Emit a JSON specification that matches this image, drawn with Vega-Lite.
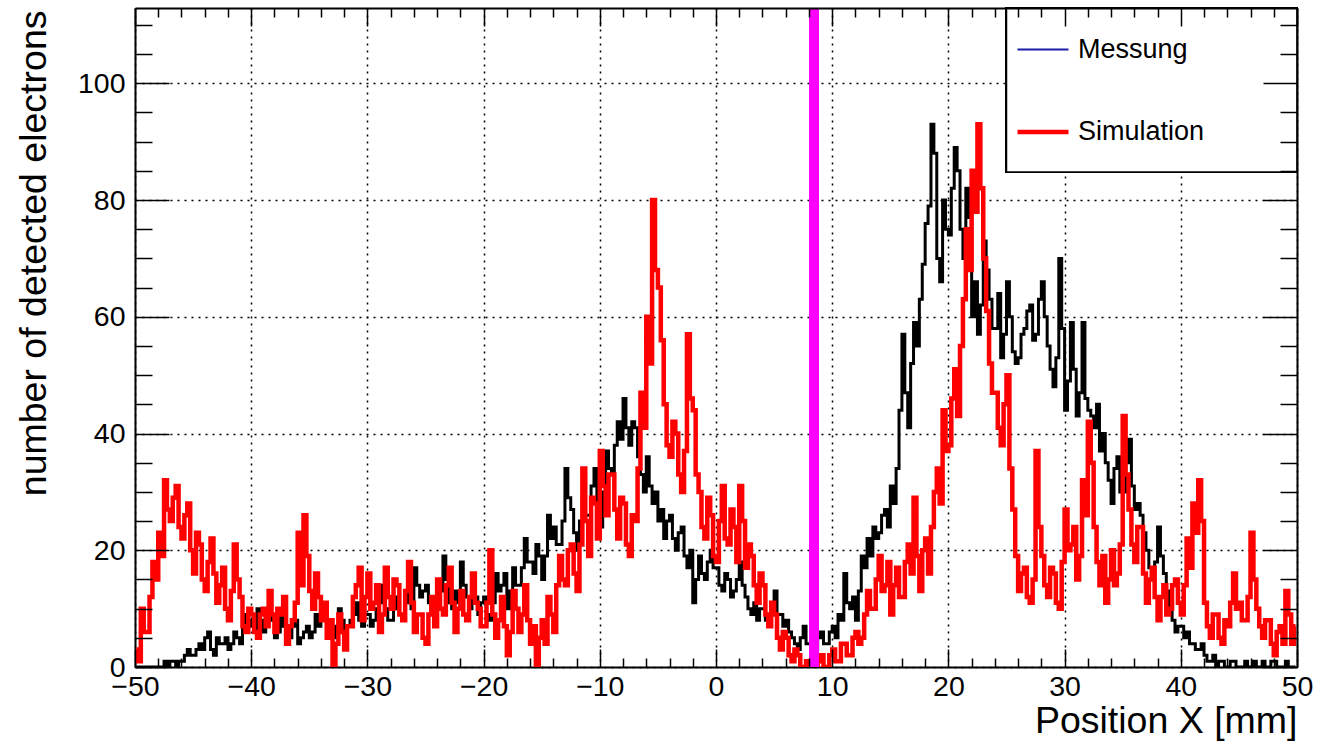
{
  "$schema": "https://vega.github.io/schema/vega-lite/v6.json",
  "width": 1162,
  "height": 659,
  "autosize": {"type": "none"},
  "padding": {"left": 135, "top": 8, "right": 40, "bottom": 75},
  "background": "white",
  "config": {
    "view": {"stroke": null},
    "font": "Liberation Sans",
    "axis": {"labelColor": "black", "titleColor": "black", "titleFontWeight": "normal", "tickColor": "black", "domainColor": "black"},
    "legend": {
      "orient": "none",
      "legendX": 858,
      "legendY": -7,
      "padding": 22,
      "rowPadding": 41,
      "labelOffset": 7,
      "labelFontSize": 27,
      "labelLimit": 400,
      "labelColor": "black",
      "labelFont": "Liberation Sans",
      "symbolType": "stroke",
      "symbolSize": 2601
    }
  },
  "data": {
    "values": [
      {"x":-49.875,"Messung":0,"Simulation":3},{"x":-49.625,"Messung":0,"Simulation":1},{"x":-49.375,"Messung":0,"Simulation":10},{"x":-49.125,"Messung":0,"Simulation":6},
      {"x":-48.875,"Messung":0,"Simulation":6},{"x":-48.625,"Messung":0,"Simulation":12},{"x":-48.375,"Messung":0,"Simulation":18},{"x":-48.125,"Messung":0,"Simulation":15},
      {"x":-47.875,"Messung":0,"Simulation":23},{"x":-47.625,"Messung":0,"Simulation":19},{"x":-47.375,"Messung":1,"Simulation":32},{"x":-47.125,"Messung":0,"Simulation":27},
      {"x":-46.875,"Messung":1,"Simulation":25},{"x":-46.625,"Messung":1,"Simulation":29},{"x":-46.375,"Messung":0,"Simulation":31},{"x":-46.125,"Messung":1,"Simulation":24},
      {"x":-45.875,"Messung":1,"Simulation":22},{"x":-45.625,"Messung":2,"Simulation":26},{"x":-45.375,"Messung":3,"Simulation":28},{"x":-45.125,"Messung":2,"Simulation":20},

      {"x":-44.875,"Messung":2,"Simulation":16},{"x":-44.625,"Messung":3,"Simulation":23},{"x":-44.375,"Messung":4,"Simulation":21},{"x":-44.125,"Messung":3,"Simulation":15},
      {"x":-43.875,"Messung":5,"Simulation":13},{"x":-43.625,"Messung":6,"Simulation":18},{"x":-43.375,"Messung":3,"Simulation":22},{"x":-43.125,"Messung":2,"Simulation":16},
      {"x":-42.875,"Messung":5,"Simulation":11},{"x":-42.625,"Messung":4,"Simulation":14},{"x":-42.375,"Messung":4,"Simulation":17},{"x":-42.125,"Messung":5,"Simulation":10},
      {"x":-41.875,"Messung":3,"Simulation":8},{"x":-41.625,"Messung":4,"Simulation":13},{"x":-41.375,"Messung":6,"Simulation":21},{"x":-41.125,"Messung":5,"Simulation":15},
      {"x":-40.875,"Messung":4,"Simulation":12},{"x":-40.625,"Messung":7,"Simulation":7},{"x":-40.375,"Messung":9,"Simulation":6},{"x":-40.125,"Messung":8,"Simulation":10},

      {"x":-39.875,"Messung":7,"Simulation":9},{"x":-39.625,"Messung":6,"Simulation":6},{"x":-39.375,"Messung":10,"Simulation":5},{"x":-39.125,"Messung":8,"Simulation":9},
      {"x":-38.875,"Messung":6,"Simulation":10},{"x":-38.625,"Messung":7,"Simulation":7},{"x":-38.375,"Messung":8,"Simulation":13},{"x":-38.125,"Messung":9,"Simulation":9},
      {"x":-37.875,"Messung":5,"Simulation":6},{"x":-37.625,"Messung":6,"Simulation":10},{"x":-37.375,"Messung":9,"Simulation":9},{"x":-37.125,"Messung":7,"Simulation":12},
      {"x":-36.875,"Messung":6,"Simulation":4},{"x":-36.625,"Messung":5,"Simulation":7},{"x":-36.375,"Messung":7,"Simulation":8},{"x":-36.125,"Messung":8,"Simulation":11},
      {"x":-35.875,"Messung":4,"Simulation":23},{"x":-35.625,"Messung":5,"Simulation":14},{"x":-35.375,"Messung":6,"Simulation":26},{"x":-35.125,"Messung":7,"Simulation":19},

      {"x":-34.875,"Messung":5,"Simulation":13},{"x":-34.625,"Messung":6,"Simulation":10},{"x":-34.375,"Messung":9,"Simulation":16},{"x":-34.125,"Messung":7,"Simulation":12},
      {"x":-33.875,"Messung":11,"Simulation":8},{"x":-33.625,"Messung":9,"Simulation":11},{"x":-33.375,"Messung":7,"Simulation":5},{"x":-33.125,"Messung":6,"Simulation":8},
      {"x":-32.875,"Messung":5,"Simulation":0},{"x":-32.625,"Messung":7,"Simulation":4},{"x":-32.375,"Messung":10,"Simulation":9},{"x":-32.125,"Messung":8,"Simulation":6},
      {"x":-31.875,"Messung":6,"Simulation":3},{"x":-31.625,"Messung":7,"Simulation":7},{"x":-31.375,"Messung":8,"Simulation":7},{"x":-31.125,"Messung":9,"Simulation":12},
      {"x":-30.875,"Messung":11,"Simulation":14},{"x":-30.625,"Messung":8,"Simulation":17},{"x":-30.375,"Messung":7,"Simulation":8},{"x":-30.125,"Messung":9,"Simulation":12},

      {"x":-29.875,"Messung":9,"Simulation":16},{"x":-29.625,"Messung":7,"Simulation":10},{"x":-29.375,"Messung":8,"Simulation":11},{"x":-29.125,"Messung":10,"Simulation":14},
      {"x":-28.875,"Messung":14,"Simulation":6},{"x":-28.625,"Messung":11,"Simulation":9},{"x":-28.375,"Messung":10,"Simulation":17},{"x":-28.125,"Messung":8,"Simulation":12},
      {"x":-27.875,"Messung":8,"Simulation":10},{"x":-27.625,"Messung":10,"Simulation":15},{"x":-27.375,"Messung":12,"Simulation":14},{"x":-27.125,"Messung":9,"Simulation":9},
      {"x":-26.875,"Messung":9,"Simulation":8},{"x":-26.625,"Messung":11,"Simulation":13},{"x":-26.375,"Messung":13,"Simulation":18},{"x":-26.125,"Messung":10,"Simulation":11},
      {"x":-25.875,"Messung":17,"Simulation":6},{"x":-25.625,"Messung":14,"Simulation":9},{"x":-25.375,"Messung":12,"Simulation":9},{"x":-25.125,"Messung":13,"Simulation":5},

      {"x":-24.875,"Messung":14,"Simulation":4},{"x":-24.625,"Messung":11,"Simulation":9},{"x":-24.375,"Messung":9,"Simulation":12},{"x":-24.125,"Messung":12,"Simulation":7},
      {"x":-23.875,"Messung":11,"Simulation":15},{"x":-23.625,"Messung":13,"Simulation":10},{"x":-23.375,"Messung":19,"Simulation":9},{"x":-23.125,"Messung":15,"Simulation":14},
      {"x":-22.875,"Messung":11,"Simulation":17},{"x":-22.625,"Messung":10,"Simulation":11},{"x":-22.375,"Messung":13,"Simulation":6},{"x":-22.125,"Messung":11,"Simulation":10},
      {"x":-21.875,"Messung":18,"Simulation":13},{"x":-21.625,"Messung":14,"Simulation":9},{"x":-21.375,"Messung":12,"Simulation":8},{"x":-21.125,"Messung":10,"Simulation":12},
      {"x":-20.875,"Messung":15,"Simulation":16},{"x":-20.625,"Messung":12,"Simulation":11},{"x":-20.375,"Messung":9,"Simulation":10},{"x":-20.125,"Messung":11,"Simulation":7},

      {"x":-19.875,"Messung":12,"Simulation":7},{"x":-19.625,"Messung":9,"Simulation":11},{"x":-19.375,"Messung":8,"Simulation":20},{"x":-19.125,"Messung":11,"Simulation":9},
      {"x":-18.875,"Messung":16,"Simulation":5},{"x":-18.625,"Messung":13,"Simulation":8},{"x":-18.375,"Messung":14,"Simulation":12},{"x":-18.125,"Messung":16,"Simulation":7},
      {"x":-17.875,"Messung":10,"Simulation":2},{"x":-17.625,"Messung":13,"Simulation":6},{"x":-17.375,"Messung":17,"Simulation":13},{"x":-17.125,"Messung":14,"Simulation":10},
      {"x":-16.875,"Messung":14,"Simulation":6},{"x":-16.625,"Messung":17,"Simulation":9},{"x":-16.375,"Messung":22,"Simulation":14},{"x":-16.125,"Messung":18,"Simulation":8},
      {"x":-15.875,"Messung":18,"Simulation":4},{"x":-15.625,"Messung":16,"Simulation":7},{"x":-15.375,"Messung":21,"Simulation":0},{"x":-15.125,"Messung":19,"Simulation":5},

      {"x":-14.875,"Messung":15,"Simulation":8},{"x":-14.625,"Messung":19,"Simulation":4},{"x":-14.375,"Messung":26,"Simulation":12},{"x":-14.125,"Messung":22,"Simulation":9},
      {"x":-13.875,"Messung":24,"Simulation":6},{"x":-13.625,"Messung":21,"Simulation":14},{"x":-13.375,"Messung":21,"Simulation":19},{"x":-13.125,"Messung":25,"Simulation":15},
      {"x":-12.875,"Messung":34,"Simulation":14},{"x":-12.625,"Messung":29,"Simulation":20},{"x":-12.375,"Messung":27,"Simulation":21},{"x":-12.125,"Messung":23,"Simulation":16},
      {"x":-11.875,"Messung":20,"Simulation":13},{"x":-11.625,"Messung":25,"Simulation":21},{"x":-11.375,"Messung":29,"Simulation":34},{"x":-11.125,"Messung":26,"Simulation":25},
      {"x":-10.875,"Messung":26,"Simulation":19},{"x":-10.625,"Messung":31,"Simulation":29},{"x":-10.375,"Messung":34,"Simulation":28},{"x":-10.125,"Messung":28,"Simulation":22},

      {"x":-9.875,"Messung":24,"Simulation":37},{"x":-9.625,"Messung":30,"Simulation":31},{"x":-9.375,"Messung":37,"Simulation":26},{"x":-9.125,"Messung":34,"Simulation":33},
      {"x":-8.875,"Messung":33,"Simulation":33},{"x":-8.625,"Messung":38,"Simulation":27},{"x":-8.375,"Messung":42,"Simulation":22},{"x":-8.125,"Messung":39,"Simulation":29},
      {"x":-7.875,"Messung":46,"Simulation":28},{"x":-7.625,"Messung":41,"Simulation":21},{"x":-7.375,"Messung":38,"Simulation":19},{"x":-7.125,"Messung":42,"Simulation":26},
      {"x":-6.875,"Messung":41,"Simulation":25},{"x":-6.625,"Messung":36,"Simulation":34},{"x":-6.375,"Messung":33,"Simulation":47},{"x":-6.125,"Messung":30,"Simulation":41},
      {"x":-5.875,"Messung":36,"Simulation":60},{"x":-5.625,"Messung":31,"Simulation":52},{"x":-5.375,"Messung":28,"Simulation":80},{"x":-5.125,"Messung":30,"Simulation":68},

      {"x":-4.875,"Messung":25,"Simulation":65},{"x":-4.625,"Messung":27,"Simulation":56},{"x":-4.375,"Messung":22,"Simulation":45},{"x":-4.125,"Messung":25,"Simulation":38},
      {"x":-3.875,"Messung":26,"Simulation":36},{"x":-3.625,"Messung":22,"Simulation":42},{"x":-3.375,"Messung":20,"Simulation":40},{"x":-3.125,"Messung":23,"Simulation":33},
      {"x":-2.875,"Messung":24,"Simulation":30},{"x":-2.625,"Messung":19,"Simulation":37},{"x":-2.375,"Messung":17,"Simulation":57},{"x":-2.125,"Messung":20,"Simulation":46},
      {"x":-1.875,"Messung":11,"Simulation":44},{"x":-1.625,"Messung":15,"Simulation":33},{"x":-1.375,"Messung":19,"Simulation":30},{"x":-1.125,"Messung":16,"Simulation":24},
      {"x":-0.875,"Messung":15,"Simulation":22},{"x":-0.625,"Messung":18,"Simulation":29},{"x":-0.375,"Messung":20,"Simulation":26},{"x":-0.125,"Messung":17,"Simulation":19},

      {"x":0.125,"Messung":17,"Simulation":18},{"x":0.375,"Messung":14,"Simulation":25},{"x":0.625,"Messung":13,"Simulation":31},{"x":0.875,"Messung":16,"Simulation":22},
      {"x":1.125,"Messung":15,"Simulation":21},{"x":1.375,"Messung":12,"Simulation":27},{"x":1.625,"Messung":13,"Simulation":24},{"x":1.875,"Messung":15,"Simulation":18},
      {"x":2.125,"Messung":18,"Simulation":31},{"x":2.375,"Messung":14,"Simulation":25},{"x":2.625,"Messung":12,"Simulation":17},{"x":2.875,"Messung":10,"Simulation":21},
      {"x":3.125,"Messung":9,"Simulation":19},{"x":3.375,"Messung":11,"Simulation":14},{"x":3.625,"Messung":8,"Simulation":11},{"x":3.875,"Messung":10,"Simulation":16},
      {"x":4.125,"Messung":10,"Simulation":14},{"x":4.375,"Messung":8,"Simulation":9},{"x":4.625,"Messung":7,"Simulation":7},{"x":4.875,"Messung":9,"Simulation":11},

      {"x":5.125,"Messung":13,"Simulation":9},{"x":5.375,"Messung":9,"Simulation":5},{"x":5.625,"Messung":9,"Simulation":3},{"x":5.875,"Messung":7,"Simulation":6},
      {"x":6.125,"Messung":8,"Simulation":5},{"x":6.375,"Messung":6,"Simulation":2},{"x":6.625,"Messung":5,"Simulation":1},{"x":6.875,"Messung":4,"Simulation":3},
      {"x":7.125,"Messung":3,"Simulation":2},{"x":7.375,"Messung":5,"Simulation":0},{"x":7.625,"Messung":7,"Simulation":0},{"x":7.875,"Messung":4,"Simulation":1},
      {"x":8.125,"Messung":4,"Simulation":0},{"x":8.375,"Messung":3,"Simulation":0},{"x":8.625,"Messung":3,"Simulation":0},{"x":8.875,"Messung":5,"Simulation":1},
      {"x":9.125,"Messung":6,"Simulation":2},{"x":9.375,"Messung":4,"Simulation":0},{"x":9.625,"Messung":4,"Simulation":0},{"x":9.875,"Messung":6,"Simulation":2},

      {"x":10.125,"Messung":7,"Simulation":3},{"x":10.375,"Messung":5,"Simulation":1},{"x":10.625,"Messung":9,"Simulation":1},{"x":10.875,"Messung":8,"Simulation":4},
      {"x":11.125,"Messung":16,"Simulation":4},{"x":11.375,"Messung":11,"Simulation":2},{"x":11.625,"Messung":10,"Simulation":2},{"x":11.875,"Messung":12,"Simulation":5},
      {"x":12.125,"Messung":8,"Simulation":6},{"x":12.375,"Messung":13,"Simulation":4},{"x":12.625,"Messung":19,"Simulation":5},{"x":12.875,"Messung":17,"Simulation":9},
      {"x":13.125,"Messung":22,"Simulation":13},{"x":13.375,"Messung":19,"Simulation":10},{"x":13.625,"Messung":24,"Simulation":10},{"x":13.875,"Messung":22,"Simulation":15},
      {"x":14.125,"Messung":23,"Simulation":19},{"x":14.375,"Messung":26,"Simulation":13},{"x":14.625,"Messung":27,"Simulation":14},{"x":14.875,"Messung":24,"Simulation":18},

      {"x":15.125,"Messung":31,"Simulation":9},{"x":15.375,"Messung":28,"Simulation":14},{"x":15.625,"Messung":34,"Simulation":17},{"x":15.875,"Messung":44,"Simulation":12},
      {"x":16.125,"Messung":57,"Simulation":12},{"x":16.375,"Messung":47,"Simulation":18},{"x":16.625,"Messung":41,"Simulation":21},{"x":16.875,"Messung":52,"Simulation":16},
      {"x":17.125,"Messung":59,"Simulation":29},{"x":17.375,"Messung":55,"Simulation":19},{"x":17.625,"Messung":63,"Simulation":13},{"x":17.875,"Messung":69,"Simulation":20},
      {"x":18.125,"Messung":76,"Simulation":22},{"x":18.375,"Messung":79,"Simulation":16},{"x":18.625,"Messung":93,"Simulation":24},{"x":18.875,"Messung":88,"Simulation":30},
      {"x":19.125,"Messung":70,"Simulation":34},{"x":19.375,"Messung":66,"Simulation":28},{"x":19.625,"Messung":80,"Simulation":44},{"x":19.875,"Messung":75,"Simulation":37},

      {"x":20.125,"Messung":74,"Simulation":38},{"x":20.375,"Messung":82,"Simulation":46},{"x":20.625,"Messung":89,"Simulation":51},{"x":20.875,"Messung":85,"Simulation":43},
      {"x":21.125,"Messung":75,"Simulation":55},{"x":21.375,"Messung":70,"Simulation":63},{"x":21.625,"Messung":82,"Simulation":75},{"x":21.875,"Messung":77,"Simulation":68},
      {"x":22.125,"Messung":60,"Simulation":85},{"x":22.375,"Messung":66,"Simulation":78},{"x":22.625,"Messung":57,"Simulation":93},{"x":22.875,"Messung":62,"Simulation":82},
      {"x":23.125,"Messung":73,"Simulation":70},{"x":23.375,"Messung":68,"Simulation":61},{"x":23.625,"Messung":63,"Simulation":52},{"x":23.875,"Messung":58,"Simulation":47},
      {"x":24.125,"Messung":58,"Simulation":47},{"x":24.375,"Messung":64,"Simulation":41},{"x":24.625,"Messung":53,"Simulation":38},{"x":24.875,"Messung":57,"Simulation":45},

      {"x":25.125,"Messung":66,"Simulation":50},{"x":25.375,"Messung":60,"Simulation":34},{"x":25.625,"Messung":54,"Simulation":27},{"x":25.875,"Messung":52,"Simulation":19},
      {"x":26.125,"Messung":53,"Simulation":13},{"x":26.375,"Messung":57,"Simulation":16},{"x":26.625,"Messung":58,"Simulation":17},{"x":26.875,"Messung":61,"Simulation":12},
      {"x":27.125,"Messung":62,"Simulation":11},{"x":27.375,"Messung":56,"Simulation":15},{"x":27.625,"Messung":57,"Simulation":37},{"x":27.875,"Messung":63,"Simulation":24},
      {"x":28.125,"Messung":66,"Simulation":19},{"x":28.375,"Messung":60,"Simulation":14},{"x":28.625,"Messung":55,"Simulation":12},{"x":28.875,"Messung":51,"Simulation":17},
      {"x":29.125,"Messung":48,"Simulation":16},{"x":29.375,"Messung":53,"Simulation":11},{"x":29.625,"Messung":70,"Simulation":10},{"x":29.875,"Messung":58,"Simulation":18},

      {"x":30.125,"Messung":44,"Simulation":27},{"x":30.375,"Messung":49,"Simulation":20},{"x":30.625,"Messung":59,"Simulation":21},{"x":30.875,"Messung":51,"Simulation":24},
      {"x":31.125,"Messung":43,"Simulation":15},{"x":31.375,"Messung":47,"Simulation":19},{"x":31.625,"Messung":59,"Simulation":32},{"x":31.875,"Messung":46,"Simulation":26},
      {"x":32.125,"Messung":44,"Simulation":42},{"x":32.375,"Messung":43,"Simulation":35},{"x":32.625,"Messung":41,"Simulation":24},{"x":32.875,"Messung":45,"Simulation":18},
      {"x":33.125,"Messung":37,"Simulation":14},{"x":33.375,"Messung":40,"Simulation":19},{"x":33.625,"Messung":35,"Simulation":11},{"x":33.875,"Messung":32,"Simulation":15},
      {"x":34.125,"Messung":28,"Simulation":20},{"x":34.375,"Messung":34,"Simulation":14},{"x":34.625,"Messung":36,"Simulation":16},{"x":34.875,"Messung":30,"Simulation":21},

      {"x":35.125,"Messung":30,"Simulation":43},{"x":35.375,"Messung":35,"Simulation":33},{"x":35.625,"Messung":39,"Simulation":27},{"x":35.875,"Messung":31,"Simulation":21},
      {"x":36.125,"Messung":27,"Simulation":18},{"x":36.375,"Messung":28,"Simulation":24},{"x":36.625,"Messung":26,"Simulation":24},{"x":36.875,"Messung":23,"Simulation":16},
      {"x":37.125,"Messung":20,"Simulation":11},{"x":37.375,"Messung":17,"Simulation":15},{"x":37.625,"Messung":15,"Simulation":17},{"x":37.875,"Messung":18,"Simulation":12},
      {"x":38.125,"Messung":24,"Simulation":8},{"x":38.375,"Messung":19,"Simulation":12},{"x":38.625,"Messung":16,"Simulation":14},{"x":38.875,"Messung":13,"Simulation":9},
      {"x":39.125,"Messung":10,"Simulation":10},{"x":39.375,"Messung":8,"Simulation":14},{"x":39.625,"Messung":6,"Simulation":15},{"x":39.875,"Messung":7,"Simulation":11},

      {"x":40.125,"Messung":7,"Simulation":9},{"x":40.375,"Messung":5,"Simulation":14},{"x":40.625,"Messung":6,"Simulation":22},{"x":40.875,"Messung":4,"Simulation":17},
      {"x":41.125,"Messung":4,"Simulation":28},{"x":41.375,"Messung":3,"Simulation":23},{"x":41.625,"Messung":3,"Simulation":32},{"x":41.875,"Messung":4,"Simulation":25},
      {"x":42.125,"Messung":2,"Simulation":11},{"x":42.375,"Messung":1,"Simulation":7},{"x":42.625,"Messung":1,"Simulation":5},{"x":42.875,"Messung":2,"Simulation":9},
      {"x":43.125,"Messung":0,"Simulation":9},{"x":43.375,"Messung":1,"Simulation":5},{"x":43.625,"Messung":1,"Simulation":4},{"x":43.875,"Messung":0,"Simulation":8},
      {"x":44.125,"Messung":0,"Simulation":7},{"x":44.375,"Messung":1,"Simulation":11},{"x":44.625,"Messung":1,"Simulation":16},{"x":44.875,"Messung":0,"Simulation":10},

      {"x":45.125,"Messung":0,"Simulation":11},{"x":45.375,"Messung":0,"Simulation":8},{"x":45.625,"Messung":1,"Simulation":8},{"x":45.875,"Messung":0,"Simulation":12},
      {"x":46.125,"Messung":0,"Simulation":23},{"x":46.375,"Messung":1,"Simulation":15},{"x":46.625,"Messung":0,"Simulation":10},{"x":46.875,"Messung":0,"Simulation":7},
      {"x":47.125,"Messung":1,"Simulation":5},{"x":47.375,"Messung":0,"Simulation":8},{"x":47.625,"Messung":0,"Simulation":8},{"x":47.875,"Messung":1,"Simulation":4},
      {"x":48.125,"Messung":1,"Simulation":2},{"x":48.375,"Messung":0,"Simulation":6},{"x":48.625,"Messung":0,"Simulation":7},{"x":48.875,"Messung":0,"Simulation":4},
      {"x":49.125,"Messung":1,"Simulation":13},{"x":49.375,"Messung":0,"Simulation":9},{"x":49.625,"Messung":0,"Simulation":4},{"x":49.875,"Messung":0,"Simulation":7}
    ]
  },
  "resolve": {"axis": {"x": "independent", "y": "independent"}},
  "layer": [
    {
      "mark": {"type": "line", "interpolate": "step", "color": "black", "strokeWidth": 3, "clip": true},
      "encoding": {
        "x": {
          "field": "x", "type": "quantitative",
          "scale": {"domain": [-50, 50], "nice": false, "zero": false},
          "axis": {
            "orient": "bottom", "values": [-50, -40, -30, -20, -10, 0, 10, 20, 30, 40, 50],
            "format": "d", "ticks": false, "domain": true, "domainWidth": 2,
            "grid": true, "gridColor": "black", "gridDash": [2, 5], "gridWidth": 1.5, "gridOpacity": 1,
            "labelFontSize": 28.5, "labelBaseline": "alphabetic", "labelPadding": 28,
            "labelFlush": false, "labelOverlap": false, "labelBound": false,
            "title": "Position X [mm]", "titleFontSize": 37.5, "titleAnchor": "end", "titleAlign": "right",
            "titleBaseline": "alphabetic", "titleX": 1162, "titleY": 65
          }
        },
        "y": {
          "field": "Messung", "type": "quantitative",
          "scale": {"domain": [0, 112.9], "nice": false, "zero": false},
          "axis": {
            "orient": "left", "values": [0, 20, 40, 60, 80, 100],
            "ticks": false, "domain": true, "domainWidth": 2,
            "grid": true, "gridColor": "black", "gridDash": [2, 5], "gridWidth": 1.5, "gridOpacity": 1,
            "labelFontSize": 28.5, "labelPadding": 10, "labelBaseline": "middle",
            "labelFlush": false, "labelOverlap": false,
            "title": "number of detected electrons", "titleFontSize": 37.5, "titleAngle": -90,
            "titleAnchor": "end", "titleAlign": "right", "titleBaseline": "alphabetic",
            "titleX": -90, "titleY": 2
          }
        }
      }
    },
    {
      "transform": [{"fold": ["Simulation"], "as": ["series", "count"]}],
      "mark": {"type": "line", "interpolate": "step", "clip": true},
      "encoding": {
        "x": {
          "field": "x", "type": "quantitative",
          "axis": {
            "orient": "bottom",
            "values": [-50,-48,-46,-44,-42,-40,-38,-36,-34,-32,-30,-28,-26,-24,-22,-20,-18,-16,-14,-12,-10,-8,-6,-4,-2,0,2,4,6,8,10,12,14,16,18,20,22,24,26,28,30,32,34,36,38,40,42,44,46,48,50],
            "labels": false, "domain": false, "grid": false, "ticks": true, "tickWidth": 1.5,
            "tickSize": {"condition": {"test": "datum.value % 10 === 0", "value": -18}, "value": -9},
            "title": null, "zindex": 1
          }
        },
        "y": {
          "field": "count", "type": "quantitative",
          "axis": {
            "orient": "left",
            "values": [0,5,10,15,20,25,30,35,40,45,50,55,60,65,70,75,80,85,90,95,100,105,110],
            "labels": false, "domain": false, "grid": false, "ticks": true, "tickWidth": 1.5,
            "tickSize": {"condition": {"test": "datum.value % 20 === 0", "value": -34}, "value": -17},
            "title": null, "zindex": 1
          }
        },
        "stroke": {
          "field": "series", "type": "nominal",
          "scale": {"domain": ["Messung", "Simulation"], "range": ["#1c1ca8", "#ff0000"]},
          "legend": {"title": null}
        },
        "strokeWidth": {
          "field": "series", "type": "nominal",
          "scale": {"type": "ordinal", "domain": ["Messung", "Simulation"], "range": [2, 4.5]},
          "legend": {"title": null}
        }
      }
    },
    {
      "mark": {"type": "rect", "fill": "white", "stroke": "black", "strokeWidth": 1.5},
      "encoding": {
        "x": {"datum": 25, "type": "quantitative", "axis": null},
        "x2": {"datum": 50},
        "y": {"datum": 84.8, "type": "quantitative", "axis": null},
        "y2": {"datum": 112.9}
      }
    },
    {
      "mark": {"type": "rule", "color": "#ff00ff", "strokeWidth": 9},
      "encoding": {
        "x": {
          "datum": 8.45, "type": "quantitative",
          "axis": {
            "orient": "top",
            "values": [-50,-48,-46,-44,-42,-40,-38,-36,-34,-32,-30,-28,-26,-24,-22,-20,-18,-16,-14,-12,-10,-8,-6,-4,-2,0,2,4,6,8,10,12,14,16,18,20,22,24,26,28,30,32,34,36,38,40,42,44,46,48,50],
            "labels": false, "domain": true, "domainWidth": 2, "grid": false, "ticks": true, "tickWidth": 1.5,
            "tickSize": {"condition": {"test": "datum.value % 10 === 0", "value": -18}, "value": -9},
            "title": null, "zindex": 1
          }
        },
        "y": {
          "datum": 0, "type": "quantitative",
          "axis": {
            "orient": "right",
            "values": [0,5,10,15,20,25,30,35,40,45,50,55,60,65,70,75,80,85,90,95,100,105,110],
            "labels": false, "domain": true, "domainWidth": 2, "grid": false, "ticks": true, "tickWidth": 1.5,
            "tickSize": {"condition": {"test": "datum.value % 20 === 0", "value": -34}, "value": -17},
            "title": null, "zindex": 1
          }
        },
        "y2": {"datum": 112.9}
      }
    }
  ]
}
